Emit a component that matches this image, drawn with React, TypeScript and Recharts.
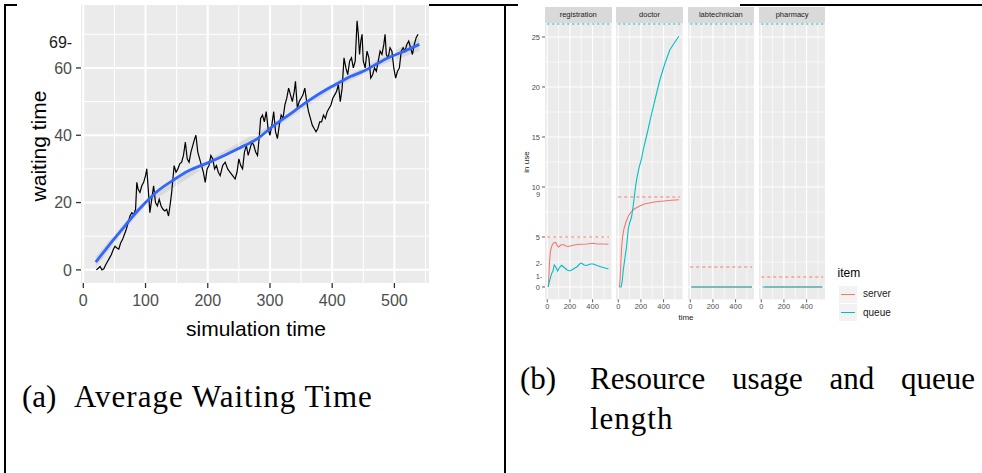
import React from "react";
import { ComposedChart, LineChart, Line, Area, XAxis, YAxis, CartesianGrid, ReferenceLine } from "recharts";

// ---- (a) average waiting time ----
// [simulation time, waiting time]
const waitingPoints: [number, number][] = [
  [21, 0], [24, 0.5], [27, 1], [30, 0], [33, 0.3], [36, 1.5], [39, 2.5], [42, 3.5], [45, 4.5], [48, 6],
  [51, 7], [54, 6.5], [57, 6.2], [60, 8], [63, 9], [66, 10.5], [69, 12], [72, 14], [75, 16], [78, 17],
  [81, 16.5], [84, 18], [86, 26], [88, 24], [91, 23], [94, 25], [97, 26], [100, 28], [102, 30], [104, 25],
  [107, 17], [110, 21], [113, 25], [116, 20], [119, 19], [122, 21], [125, 19], [128, 18], [131, 17.5], [134, 18],
  [137, 16], [140, 20], [142, 23], [144, 27], [146, 31], [149, 29], [152, 30], [155, 31.5], [158, 32], [161, 34],
  [164, 38], [167, 33], [170, 32], [173, 35], [176, 37], [179, 39], [181, 40], [184, 35], [187, 33], [190, 31],
  [193, 29], [196, 26], [199, 30], [202, 31], [205, 34], [208, 33], [211, 30], [214, 31], [217, 29], [220, 28],
  [224, 31], [228, 32], [232, 30], [236, 29], [240, 28], [244, 27], [247, 29], [250, 33], [253, 31], [256, 30],
  [259, 35], [262, 37], [265, 34], [268, 36], [271, 38], [274, 37], [277, 35], [280, 34], [283, 40], [285, 45],
  [288, 46], [291, 44], [294, 47], [297, 42], [300, 40], [303, 43], [306, 47], [309, 41], [312, 39], [315, 43],
  [318, 46], [321, 45], [324, 49], [327, 51], [330, 54], [333, 52], [336, 50], [339, 53], [341, 56], [344, 48],
  [347, 50], [350, 51], [353, 52], [356, 54], [359, 50], [362, 47], [365, 45], [368, 43], [371, 42], [374, 41],
  [377, 42], [380, 44], [383, 44], [386, 46], [389, 45], [392, 47], [395, 48], [398, 49], [401, 51], [404, 52],
  [407, 53], [410, 55], [413, 50], [416, 54], [419, 63], [422, 60], [425, 58], [428, 62], [431, 63], [434, 60],
  [437, 62], [440, 74], [442, 70], [444, 64], [446, 68], [448, 70], [450, 62], [453, 60], [456, 65], [459, 63],
  [462, 57], [465, 58], [468, 60], [471, 59], [474, 62], [477, 65], [480, 64], [483, 67], [485, 70], [487, 64],
  [490, 63], [493, 66], [496, 65], [499, 60], [502, 57], [505, 59], [508, 60], [511, 65], [514, 66], [517, 65],
  [520, 67], [523, 68], [526, 66], [529, 64], [532, 67], [535, 69], [538, 70],
];

// loess fit
const smoothPoints: [number, number][] = [
  [20, 2.3], [40, 7], [60, 11.5], [80, 16], [100, 20], [120, 23.5], [145, 26.7], [170, 29.5], [200, 31.8],
  [230, 34.3], [260, 37], [280, 39], [300, 42], [330, 46], [360, 50], [390, 53.5], [410, 55.5], [430, 57.5],
  [450, 59], [470, 61], [490, 63], [510, 64.5], [540, 67],
];

// confidence band [t, low, high]
const bandPoints: [number, number, number][] = [
  [20, 0.6, 4.0], [60, 10.4, 12.6], [100, 19.1, 20.9], [200, 31.0, 32.6], [300, 41.1, 42.9],
  [400, 53.6, 55.4], [480, 60.9, 63.1], [540, 65.0, 69.0],
];

const waitXTicks = [0, 100, 200, 300, 400, 500];
const waitXMinor = [50, 150, 250, 350, 450, 550];
const waitYTicks = [0, 20, 40, 60];
const waitYMinor = [10, 30, 50, 70];

// ---- (b) resource usage, [time, value] ----
const regServer: [number, number][] = [
  [9, 0], [15, 1.2], [20, 2.5], [28, 3.6], [40, 4.1], [55, 4.4], [74, 4.45], [90, 4.1], [100, 4.0], [120, 4.2],
  [141, 4.25], [165, 4.1], [185, 4.05], [220, 4.15], [260, 4.25], [303, 4.27], [350, 4.3], [406, 4.37],
  [440, 4.3], [500, 4.3], [540, 4.27],
];
const regQueue: [number, number][] = [
  [9, 0], [20, 0.6], [38, 1.33], [50, 1.6], [62, 2.2], [75, 2.0], [91, 1.6], [105, 1.9], [126, 2.17],
  [150, 1.95], [175, 1.7], [200, 1.6], [230, 1.8], [260, 2.0], [290, 2.35], [303, 2.4], [325, 2.2],
  [347, 2.15], [380, 2.3], [406, 2.3], [440, 2.15], [479, 2.0], [510, 1.9], [540, 1.83],
];
const docServer: [number, number][] = [
  [9, 0], [15, 0.5], [20, 1.5], [24, 2.7], [30, 4], [38, 5], [50, 5.8], [68, 6.5], [90, 7.1], [112, 7.5],
  [140, 7.8], [185, 8.07], [230, 8.3], [317, 8.5], [400, 8.6], [470, 8.68], [537, 8.73],
];
const docQueue: [number, number][] = [
  [9, 0], [25, 0], [35, 0.6], [44, 1.67], [60, 3], [73, 4], [88, 5.8], [100, 6.4], [117, 7], [128, 7.8],
  [138, 8.67], [150, 9.8], [161, 10.7], [185, 12], [205, 12.8], [220, 13.7], [260, 15.6], [294, 17.3],
  [330, 19], [367, 20.7], [410, 22.3], [455, 23.7], [500, 24.5], [535, 25.07],
];
const labServer: [number, number][] = [[9, 0], [545, 0]];
const labQueue: [number, number][] = [[9, 0], [545, 0]];
const pharmServer: [number, number][] = [[30, 0], [540, 0]];
const pharmQueue: [number, number][] = [[10, 0], [540, 0]];

const facetNames = ["registration", "doctor", "labtechnician", "pharmacy"];
const serverCapacity = [5, 9, 2, 1];
const queueCapacityTop = 26.3;
const capacitySpan = [0, 546];

const facetXTicks = [0, 200, 400];
const facetXMinor = [100, 300, 500];
const facetYTicks = [0, 5, 10, 15, 20, 25];
const facetYMinor = [2.5, 7.5, 12.5, 17.5, 22.5];

const SERVER = "#F8766D";
const QUEUE = "#00BFC4";
const SANS = "'Liberation Sans', Arial, sans-serif";
const SERIF = "'Liberation Serif', 'DejaVu Serif', serif";

const toRows = (pts: [number, number][]) => pts.map(([t, v]) => ({ t, v }));

const Txt = ({ x, y, size, color = "#000", rotate = 0, family = SANS, children }: any) => (
  <div
    style={{
      position: "absolute", left: x, top: y, fontSize: size, color, fontFamily: family,
      lineHeight: 1, whiteSpace: "nowrap", transform: `translate(-50%,-50%) rotate(${rotate}deg)`,
    }}
  >
    {children}
  </div>
);

const WaitingChart = () => {
  const waitData = waitingPoints.map(([t, v]) => ({ t, v }));
  const smoothData = smoothPoints.map(([t, s]) => ({ t, s }));
  const bandData = bandPoints.map(([t, lo, hi]) => ({ t, band: [lo, hi] }));
  return (
    <div style={{ position: "absolute", left: 17, top: 0, width: 412, height: 345, background: "#fff" }}>
      <ComposedChart width={412} height={345} margin={{ top: 5, right: 0, bottom: 0, left: 0 }}>
        <CartesianGrid fill="#EBEBEB" horizontal={false} vertical={false} />
        {waitYMinor.map((y) => <ReferenceLine key={"ym" + y} y={y} stroke="#fff" strokeWidth={1} />)}
        {waitXMinor.map((x) => <ReferenceLine key={"xm" + x} x={x} stroke="#fff" strokeWidth={1} />)}
        {waitYTicks.map((y) => <ReferenceLine key={"y" + y} y={y} stroke="#fff" strokeWidth={2} />)}
        {waitXTicks.map((x) => <ReferenceLine key={"x" + x} x={x} stroke="#fff" strokeWidth={2} />)}
        <XAxis
          type="number" dataKey="t" domain={[-3.7, 555.6]} ticks={waitXTicks} allowDataOverflow
          height={62} tickSize={5} tickMargin={7} axisLine={false}
          tickLine={{ stroke: "#333", strokeWidth: 1.3 }}
          tick={{ fill: "#4D4D4D", fontSize: 16, fontFamily: SANS }}
        />
        <YAxis
          type="number" domain={[-3.9, 78.7]} ticks={waitYTicks} allowDataOverflow
          width={64} tickSize={5} tickMargin={4} axisLine={false}
          tickLine={{ stroke: "#333", strokeWidth: 1.3 }}
          tick={{ fill: "#4D4D4D", fontSize: 16, fontFamily: SANS }}
        />
        <Area data={bandData} dataKey="band" type="linear" stroke="none" fill="#999999" fillOpacity={0.22} isAnimationActive={false} />
        <Line data={waitData} dataKey="v" type="linear" stroke="#000" strokeWidth={1.2} dot={false} isAnimationActive={false} />
        <Line data={smoothData} dataKey="s" type="monotone" stroke="#3366FF" strokeWidth={2.8} dot={false} isAnimationActive={false} />
      </ComposedChart>
      <Txt x={256 - 17} y={328} size={21}>simulation time</Txt>
      <Txt x={38 - 17} y={146} size={21} rotate={-90}>waiting time</Txt>
      <div style={{ position: "absolute", left: 49 - 17, top: 34, fontSize: 16, color: "#1a1a1a", fontFamily: SANS }}>69-</div>
    </div>
  );
};

const PANEL_W = 66.5;
const PANEL_H = 276.3;
const STRIP_H = 16;
const facetLefts = [545, 616.3, 687.6, 758.9];

const Facet = ({ idx, server, queue }: { idx: number; server: [number, number][]; queue: [number, number][] }) => {
  const showY = idx === 0;
  const yW = showY ? 30 : 0;
  const cap = serverCapacity[idx];
  const capRows = capacitySpan.map((t) => ({ t, v: cap }));
  const qCapRows = capacitySpan.map((t) => ({ t, v: queueCapacityTop }));
  return (
    <div style={{ position: "absolute", left: facetLefts[idx] - yW, top: 6.7 }}>
      <div
        style={{
          marginLeft: yW, width: PANEL_W, height: STRIP_H, background: "#D9D9D9", color: "#1A1A1A",
          fontFamily: SANS, fontSize: 7.5, lineHeight: STRIP_H + "px", textAlign: "center",
        }}
      >
        {facetNames[idx]}
      </div>
      <LineChart width={PANEL_W + yW} height={PANEL_H + 16} margin={{ top: 0, right: 0, bottom: 0, left: 0 }}>
        <CartesianGrid fill="#EBEBEB" horizontal={false} vertical={false} />
        {facetYMinor.map((y) => <ReferenceLine key={"ym" + y} y={y} stroke="#fff" strokeWidth={0.6} />)}
        {facetXMinor.map((x) => <ReferenceLine key={"xm" + x} x={x} stroke="#fff" strokeWidth={0.6} />)}
        {facetYTicks.map((y) => <ReferenceLine key={"y" + y} y={y} stroke="#fff" strokeWidth={1.1} />)}
        {facetXTicks.map((x) => <ReferenceLine key={"x" + x} x={x} stroke="#fff" strokeWidth={1.1} />)}
        <XAxis
          type="number" dataKey="t" domain={[-20, 567]} ticks={facetXTicks} allowDataOverflow
          height={16} tickSize={3} tickMargin={1} axisLine={false}
          tickLine={{ stroke: "#333", strokeWidth: 0.8 }}
          tick={{ fill: "#4D4D4D", fontSize: 7.5, fontFamily: SANS }}
        />
        <YAxis
          type="number" domain={[-1.23, 26.4]} ticks={facetYTicks} allowDataOverflow hide={!showY}
          width={yW} tickSize={3} tickMargin={2} axisLine={false}
          tickLine={{ stroke: "#333", strokeWidth: 0.8 }}
          tick={{ fill: "#4D4D4D", fontSize: 7.5, fontFamily: SANS }}
        />
        <Line data={qCapRows} dataKey="v" stroke={QUEUE} strokeWidth={1.2} strokeDasharray="2 3" dot={false} isAnimationActive={false} />
        <Line data={capRows} dataKey="v" stroke={SERVER} strokeWidth={1} strokeDasharray="3 3" dot={false} isAnimationActive={false} />
        <Line data={toRows(server)} dataKey="v" type="linear" stroke={SERVER} strokeWidth={1.1} dot={false} isAnimationActive={false} />
        <Line data={toRows(queue)} dataKey="v" type="linear" stroke={QUEUE} strokeWidth={1.1} dot={false} isAnimationActive={false} />
      </LineChart>
    </div>
  );
};

const UsageChart = () => (
  <>
    <div style={{ position: "absolute", left: 518, top: 0, width: 222, height: 336, background: "#fff" }} />
    <Facet idx={0} server={regServer} queue={regQueue} />
    <Facet idx={1} server={docServer} queue={docQueue} />
    <Facet idx={2} server={labServer} queue={labQueue} />
    <Facet idx={3} server={pharmServer} queue={pharmQueue} />
    <Txt x={527} y={162} size={8} rotate={-90} color="#1a1a1a">in use</Txt>
    <Txt x={686} y={318} size={8} color="#1a1a1a">time</Txt>
    <Txt x={538} y={195} size={7.5} color="#4D4D4D">9</Txt>
    <Txt x={539} y={264.3} size={7.5} color="#4D4D4D">2-</Txt>
    <Txt x={539} y={277.3} size={7.5} color="#4D4D4D">1-</Txt>
    {/* legend */}
    <div style={{ position: "absolute", left: 837.5, top: 267, fontFamily: SANS, fontSize: 12, color: "#000", lineHeight: 1 }}>item</div>
    {[SERVER, QUEUE].map((c, i) => (
      <div key={c} style={{ position: "absolute", left: 839, top: 285.5 + i * 18, width: 17.5, height: 17.3, background: "#F2F2F2" }}>
        <div style={{ position: "absolute", left: 1.5, right: 1.5, top: 8.2, height: 1.1, background: c }} />
      </div>
    ))}
    <div style={{ position: "absolute", left: 863, top: 289, fontFamily: SANS, fontSize: 10, color: "#1a1a1a", lineHeight: 1 }}>server</div>
    <div style={{ position: "absolute", left: 863, top: 307.5, fontFamily: SANS, fontSize: 10, color: "#1a1a1a", lineHeight: 1 }}>queue</div>
  </>
);

const caption: React.CSSProperties = {
  position: "absolute", fontFamily: SERIF, fontSize: 31, lineHeight: 1, whiteSpace: "nowrap",
};

export default function App() {
  const line = "#000";
  return (
    <div style={{ position: "absolute", left: 0, top: 0, width: 982, height: 473, background: "#fff", overflow: "hidden" }}>
      {/* table borders */}
      <div style={{ position: "absolute", left: 4, top: 4, width: 978, height: 2, background: line }} />
      <div style={{ position: "absolute", left: 4, top: 4, width: 2, height: 469, background: line }} />
      <div style={{ position: "absolute", left: 504, top: 4, width: 2, height: 469, background: line }} />
      <WaitingChart />
      <UsageChart />
      {/* captions */}
      <div style={{ ...caption, left: 22, top: 381 }}>(a)</div>
      <div style={{ ...caption, left: 74, top: 381, letterSpacing: 1 }}>Average Waiting Time</div>
      <div style={{ ...caption, left: 520, top: 363 }}>(b)</div>
      <div style={{ ...caption, left: 590, top: 363, width: 385, display: "flex", justifyContent: "space-between" }}>
        <span>Resource</span><span>usage</span><span>and</span><span>queue</span>
      </div>
      <div style={{ ...caption, left: 590, top: 403, letterSpacing: 1 }}>length</div>
    </div>
  );
}
